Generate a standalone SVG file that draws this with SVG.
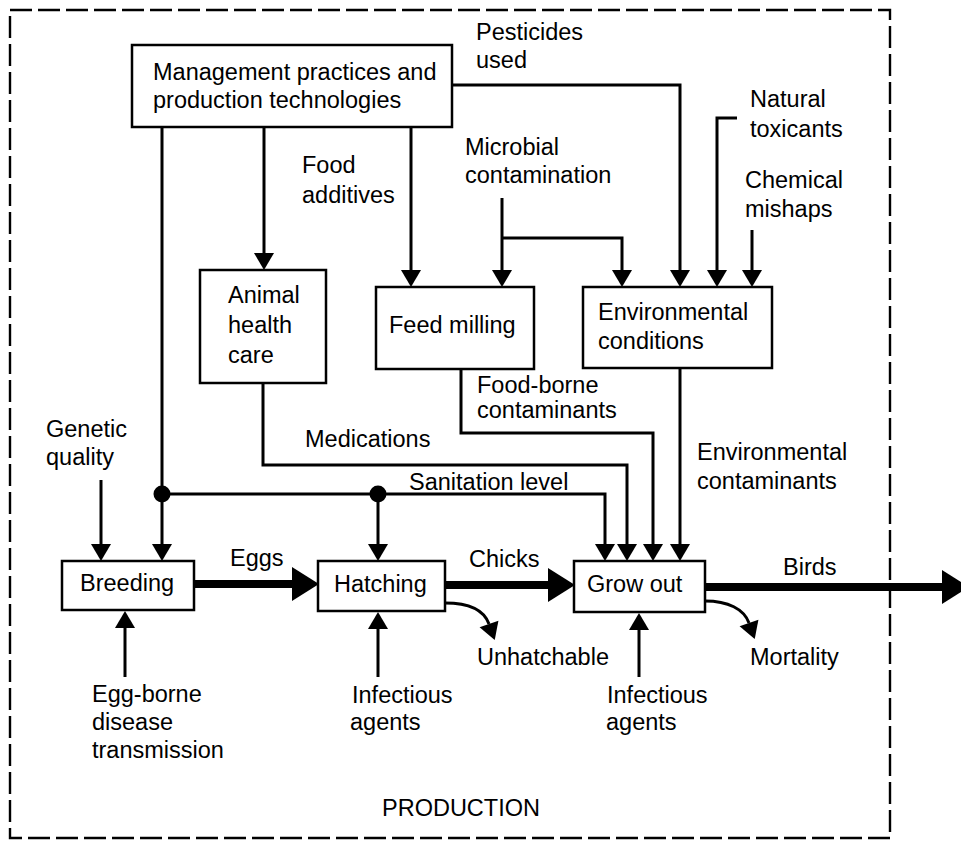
<svg xmlns="http://www.w3.org/2000/svg" width="961" height="843" viewBox="0 0 961 843">
<style>
.t{font-family:"Liberation Sans",Arial,sans-serif;font-size:23.5px;fill:#000}
.box{fill:#fff;stroke:#000;stroke-width:2.5}
.c{fill:none;stroke:#000;stroke-width:3}
.thick{fill:none;stroke:#000;stroke-width:8}
.frame{fill:none;stroke:#000;stroke-width:2.4;stroke-dasharray:22 6}
</style>
<defs>
<marker id="a" markerUnits="userSpaceOnUse" markerWidth="18" markerHeight="20" refX="0" refY="10" orient="auto" overflow="visible">
<path d="M0,0 L17,10 L0,20 z" fill="#000"/>
</marker>
<marker id="b" markerUnits="userSpaceOnUse" markerWidth="28" markerHeight="34" refX="0" refY="17" orient="auto" overflow="visible">
<path d="M0,0 L27,17 L0,34 z" fill="#000"/>
</marker>
</defs>
<rect class="frame" x="10" y="10" width="880" height="828"/>
<g id="connectors">
<path class="c" d="M162,127 V544" marker-end="url(#a)"/>
<path class="c" d="M162,494 H605 V544" marker-end="url(#a)"/>
<path class="c" d="M378,494 V544" marker-end="url(#a)"/>
<circle cx="162" cy="494" r="8.5" fill="#000"/>
<circle cx="378" cy="494" r="8.5" fill="#000"/>
<path class="c" d="M264,127 V253" marker-end="url(#a)"/>
<path class="c" d="M411,127 V270" marker-end="url(#a)"/>
<path class="c" d="M452,85 H680 V270" marker-end="url(#a)"/>
<path class="c" d="M502,198 V270" marker-end="url(#a)"/>
<path class="c" d="M502,238 H622 V270" marker-end="url(#a)"/>
<path class="c" d="M737,118 H717 V270" marker-end="url(#a)"/>
<path class="c" d="M752,230 V270" marker-end="url(#a)"/>
<path class="c" d="M263,383 V465 H627 V544" marker-end="url(#a)"/>
<path class="c" d="M461,369 V433 H653 V544" marker-end="url(#a)"/>
<path class="c" d="M680,368 V544" marker-end="url(#a)"/>
<path class="c" d="M101,480 V544" marker-end="url(#a)"/>
<path class="c" d="M125,677 V628" marker-end="url(#a)"/>
<path class="c" d="M378,677 V629" marker-end="url(#a)"/>
<path class="c" d="M639,677 V630" marker-end="url(#a)"/>
<path class="thick" d="M194,584 H292" marker-end="url(#b)"/>
<path class="thick" d="M445,585 H548" marker-end="url(#b)"/>
<path class="thick" d="M705,587 H942" marker-end="url(#b)"/>
<path class="c" d="M445,603 C468,603 484,610 489,624" marker-end="url(#a)"/>
<path class="c" d="M705,601 C728,601 744,609 749,623" marker-end="url(#a)"/>
</g>
<g id="mgmt">
<rect class="box" x="132" y="45" width="320" height="82"/>
<text class="t" x="153" y="80">Management practices and</text>
<text class="t" x="153" y="108">production technologies</text>
</g>
<g id="animal">
<rect class="box" x="200" y="270" width="126" height="113"/>
<text class="t" x="228" y="303">Animal</text>
<text class="t" x="228" y="333">health</text>
<text class="t" x="228" y="363">care</text>
</g>
<g id="feed">
<rect class="box" x="376" y="287" width="158" height="82"/>
<text class="t" x="389" y="333">Feed milling</text>
</g>
<g id="env">
<rect class="box" x="583" y="287" width="189" height="81"/>
<text class="t" x="598" y="320">Environmental</text>
<text class="t" x="598" y="349">conditions</text>
</g>
<g id="breeding">
<rect class="box" x="62" y="561" width="132" height="49"/>
<text class="t" x="80" y="591">Breeding</text>
</g>
<g id="hatching">
<rect class="box" x="318" y="561" width="127" height="50"/>
<text class="t" x="334" y="592">Hatching</text>
</g>
<g id="growout">
<rect class="box" x="574" y="561" width="131" height="51"/>
<text class="t" x="587" y="592">Grow out</text>
</g>
<g id="labels">
<text class="t" x="476" y="40">Pesticides</text>
<text class="t" x="476" y="68">used</text>
<text class="t" x="302" y="173">Food</text>
<text class="t" x="302" y="203">additives</text>
<text class="t" x="465" y="155">Microbial</text>
<text class="t" x="465" y="183">contamination</text>
<text class="t" x="750" y="107">Natural</text>
<text class="t" x="750" y="137">toxicants</text>
<text class="t" x="745" y="188">Chemical</text>
<text class="t" x="745" y="217">mishaps</text>
<text class="t" x="477" y="393">Food-borne</text>
<text class="t" x="477" y="418">contaminants</text>
<text class="t" x="305" y="447">Medications</text>
<text class="t" x="409" y="490">Sanitation level</text>
<text class="t" x="697" y="460">Environmental</text>
<text class="t" x="697" y="489">contaminants</text>
<text class="t" x="46" y="437">Genetic</text>
<text class="t" x="46" y="465">quality</text>
<text class="t" x="230" y="566">Eggs</text>
<text class="t" x="469" y="567">Chicks</text>
<text class="t" x="783" y="575">Birds</text>
<text class="t" x="477" y="665">Unhatchable</text>
<text class="t" x="750" y="665">Mortality</text>
<text class="t" x="92" y="702">Egg-borne</text>
<text class="t" x="92" y="730">disease</text>
<text class="t" x="92" y="758">transmission</text>
<text class="t" x="352" y="703">Infectious</text>
<text class="t" x="350" y="730">agents</text>
<text class="t" x="607" y="703">Infectious</text>
<text class="t" x="606" y="730">agents</text>
<text class="t" x="382" y="816">PRODUCTION</text>
</g>
</svg>
